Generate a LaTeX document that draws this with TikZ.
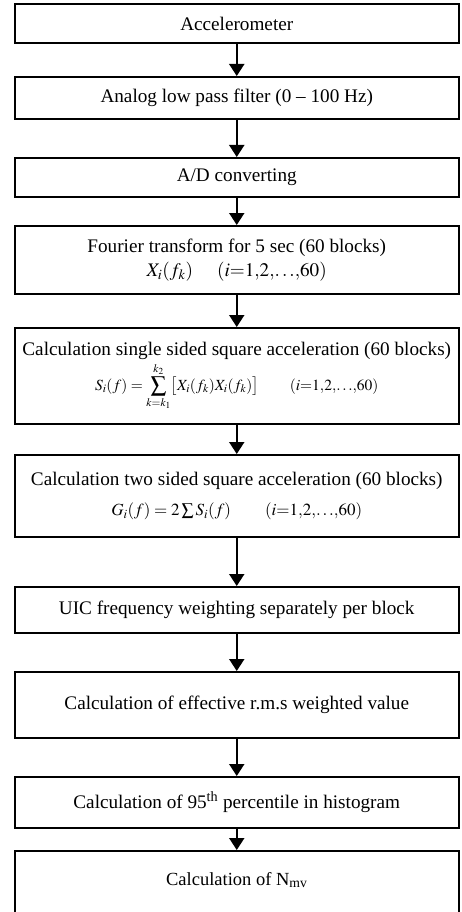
\documentclass[tikz,border=0pt]{standalone}
\usepackage{mathptmx}
\usepackage{fontspec}
\setmainfont{Liberation Serif}
\usetikzlibrary{arrows.meta}
\newcommand{\idxrange}{$(i{=}1{,}2{,}{\ldots}{,}60)$}
\begin{document}
\begin{tikzpicture}[x=1pt,y=-1pt,
  box/.style={draw, line width=2pt, minimum width=444.5pt, inner sep=0pt, align=center,
    font=\fontsize{19.2}{24}\selectfont},
  flow/.style={line width=2pt, -{Triangle[width=15pt,length=12pt]}}]
\useasboundingbox (0,0) rectangle (461,912);
\clip (0,0) rectangle (461,912);
\def\cx{236.75}
\node[box, minimum height=39pt] (b1) at (\cx,23.5) {Accelerometer};
\node[box, minimum height=42pt] (b2) at (\cx,98) {Analog low pass filter (0 -- 100 Hz)};
\node[box, minimum height=39pt] (b3) at (\cx,177.5) {A/D converting};
\node[box, minimum height=68pt] (b4) at (\cx,260) {Fourier transform for 5 sec (60 blocks)\\ $X_i(f_k)$\quad\ \idxrange};
\node[box, minimum height=96pt] (b5) at (\cx,376) {Calculation single sided square acceleration (60 blocks)\\[3pt]
  {\fontsize{15.5}{17}\selectfont $S_i(f)=\displaystyle\sum_{k=k_1}^{k_2}\bigl[X_i(f_k)X_i(f_k)\bigr]$\qquad\idxrange}};
\node[box, minimum height=82pt] (b6) at (\cx,496) {Calculation two sided square acceleration (60 blocks)\\[6pt]
  {\fontsize{17}{20}\selectfont $G_i(f)=2\sum S_i(f)$\qquad\idxrange}};
\node[box, minimum height=46pt] (b7) at (\cx,610) {UIC frequency weighting separately per block};
\node[box, minimum height=66pt] (b8) at (\cx,705) {Calculation of effective r.m.s weighted value};
\node[box, minimum height=51pt] (b9) at (\cx,802.5) {Calculation of 95\textsuperscript{th} percentile in histogram};
\node[box, minimum height=110pt, anchor=north] (b10) at (\cx,850) {};
\node[font=\fontsize{18.5}{24}\selectfont] (t10) at (\cx,880) {Calculation of N\textsubscript{mv}};
\draw[flow] (b1) -- (b2);
\draw[flow] (b2) -- (b3);
\draw[flow] (b3) -- (b4);
\draw[flow] (b4) -- (b5);
\draw[flow] (b5) -- (b6);
\draw[flow] (b6) -- (b7);
\draw[flow] (b7) -- (b8);
\draw[flow] (b8) -- (b9);
\draw[flow] (b9) -- (b10);
\end{tikzpicture}
\end{document}
